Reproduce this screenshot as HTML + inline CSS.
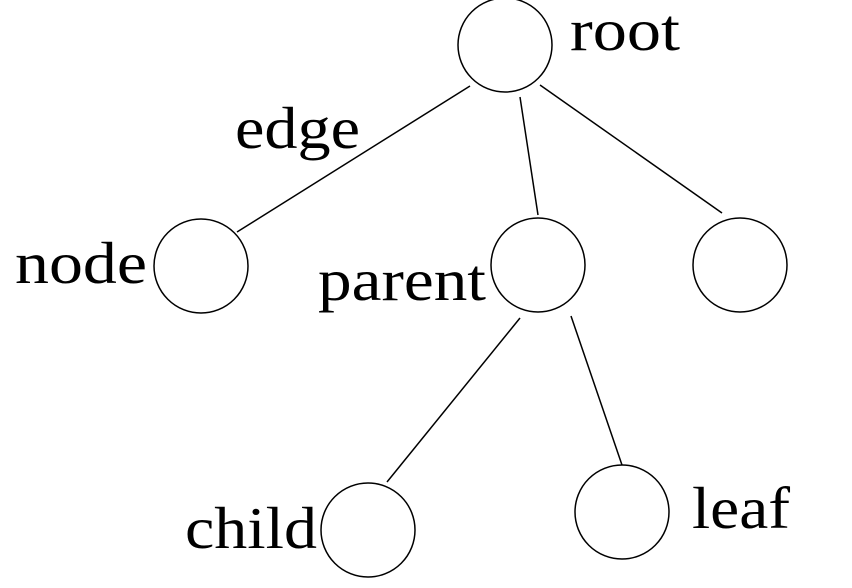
<!DOCTYPE html>
<html><head><meta charset="utf-8"><style>
html,body{margin:0;padding:0;background:#fff;}
svg{display:block;}
text{font-family:"Liberation Serif",serif;font-size:59px;fill:#000;}
</style></head><body>
<svg width="852" height="588" viewBox="0 0 852 588" xmlns="http://www.w3.org/2000/svg">
<g stroke="#000" stroke-width="1.5" fill="none">
<circle cx="505" cy="45" r="47"/>
<circle cx="201" cy="266" r="47"/>
<circle cx="538" cy="265" r="47"/>
<circle cx="740" cy="265" r="47"/>
<circle cx="368" cy="530" r="47"/>
<circle cx="622" cy="512" r="47"/>
<line x1="470" y1="86" x2="237" y2="232"/>
<line x1="520" y1="97" x2="538" y2="215"/>
<line x1="540" y1="85" x2="722" y2="213"/>
<line x1="520" y1="318" x2="387" y2="482"/>
<line x1="571" y1="316" x2="622" y2="465"/>
</g>
<text x="570" y="50" textLength="110" lengthAdjust="spacingAndGlyphs">root</text>
<text x="235" y="148" textLength="125" lengthAdjust="spacingAndGlyphs">edge</text>
<text x="15" y="283" textLength="132" lengthAdjust="spacingAndGlyphs">node</text>
<text x="318" y="300" textLength="168" lengthAdjust="spacingAndGlyphs">parent</text>
<text x="185" y="548" textLength="132" lengthAdjust="spacingAndGlyphs">child</text>
<text x="692" y="528" textLength="98" lengthAdjust="spacingAndGlyphs">leaf</text>
</svg>
</body></html>
